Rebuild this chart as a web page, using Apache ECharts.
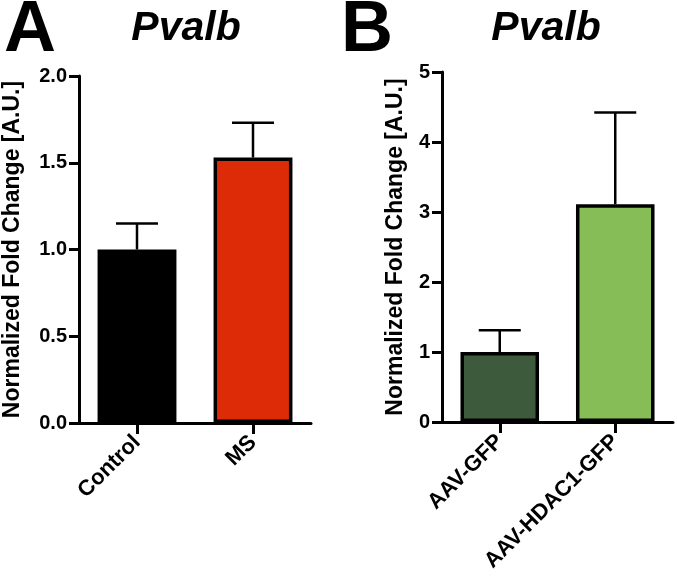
<!DOCTYPE html>
<html>
<head>
<meta charset="utf-8">
<script src="https://cdn.jsdelivr.net/npm/echarts@6/dist/echarts.min.js"></script>
<style>
html, body { margin: 0; padding: 0; background: #fff; }
#chart { width: 677px; height: 581px; }
</style>
</head>
<body>
<div id="chart"></div>
<script>
// panel A
const groupsA = ["Control", "MS"];
const meansA = [1.0, 1.53];
const semA = [0.15, 0.2];
const colorsA = ["#000000", "#dd2b07"];
// panel B
const groupsB = ["AAV-GFP", "AAV-HDAC1-GFP"];
const meansB = [1.0, 3.11];
const semB = [0.31, 1.31];
const colorsB = ["#3e5a3c", "#86bd57"];

const FONT = "'Liberation Sans', Arial, Helvetica, sans-serif";
const yName = "Normalized Fold Change [A.U.]";

function barData(means, colors) {
  return means.map((v, i) => ({
    value: v,
    itemStyle: { color: colors[i] }
  }));
}

function errData(means, sem) {
  return means.map((v, i) => [i, v, v + sem[i]]);
}

function renderErr(params, api) {
  const x = api.value(0);
  const lo = api.coord([x, api.value(1)]);
  const hi = api.coord([x, api.value(2)]);
  const half = 21;
  const style = { stroke: "#000", lineWidth: 2.5 };
  return {
    type: "group",
    children: [
      { type: "line", shape: { x1: lo[0], y1: lo[1], x2: hi[0], y2: hi[1] }, style: style },
      { type: "line", shape: { x1: hi[0] - half, y1: hi[1], x2: hi[0] + half, y2: hi[1] }, style: style }
    ]
  };
}

function xAxisOf(cats, gridIndex) {
  return {
    type: "category",
    gridIndex: gridIndex,
    data: cats,
    axisLine: { lineStyle: { color: "#000", width: 3 } },
    axisTick: { show: true, alignWithLabel: true, length: 11, lineStyle: { color: "#000", width: 3 } },
    axisLabel: {
      rotate: 45,
      margin: 16,
      color: "#000",
      fontFamily: FONT,
      fontWeight: "bold",
      fontSize: 22
    }
  };
}

function yAxisOf(max, interval, decimals, gridIndex, gap) {
  return {
    type: "value",
    gridIndex: gridIndex,
    min: 0,
    max: max,
    interval: interval,
    splitLine: { show: false },
    axisLine: { show: true, lineStyle: { color: "#000", width: 3 } },
    axisTick: { show: true, length: 10, lineStyle: { color: "#000", width: 3 } },
    axisLabel: {
      margin: 12,
      color: "#000",
      fontFamily: FONT,
      fontWeight: "bold",
      fontSize: 20,
      formatter: v => v.toFixed(decimals)
    },
    name: yName,
    nameLocation: "middle",
    nameGap: gap,
    nameTextStyle: {
      color: "#000",
      fontFamily: FONT,
      fontWeight: "bold",
      fontSize: 23
    }
  };
}

const chart = echarts.init(document.getElementById("chart"));
chart.setOption({
  backgroundColor: "#fff",
  animation: false,
  title: [
    { text: "A", left: -1, top: -10, textStyle: { fontFamily: FONT, fontWeight: "bold", fontSize: 72, color: "#000" } },
    { text: "B", left: 336, top: -10, textStyle: { fontFamily: FONT, fontWeight: "bold", fontSize: 72, color: "#000" } },
    { text: "Pvalb", left: 181, top: 3, textAlign: "center", textStyle: { fontFamily: FONT, fontStyle: "italic", fontWeight: "bold", fontSize: 41, color: "#000" } },
    { text: "Pvalb", left: 541, top: 3, textAlign: "center", textStyle: { fontFamily: FONT, fontStyle: "italic", fontWeight: "bold", fontSize: 41, color: "#000" } }
  ],
  grid: [
    { left: 78, right: 366, top: 76, bottom: 158 },
    { left: 442, right: 4, top: 72, bottom: 159 }
  ],
  xAxis: [xAxisOf(groupsA, 0), xAxisOf(groupsB, 1)],
  yAxis: [yAxisOf(2, 0.5, 1, 0, 55), yAxisOf(5, 1, 0, 1, 35)],
  series: [
    {
      type: "bar", xAxisIndex: 0, yAxisIndex: 0, barWidth: "68%",
      itemStyle: { borderColor: "#000", borderWidth: 3.5 },
      data: barData(meansA, colorsA)
    },
    {
      type: "custom", xAxisIndex: 0, yAxisIndex: 0,
      renderItem: renderErr, encode: { x: 0, y: [1, 2] },
      data: errData(meansA, semA), z: 1
    },
    {
      type: "bar", xAxisIndex: 1, yAxisIndex: 1, barWidth: "68%",
      itemStyle: { borderColor: "#000", borderWidth: 3.5 },
      data: barData(meansB, colorsB)
    },
    {
      type: "custom", xAxisIndex: 1, yAxisIndex: 1,
      renderItem: renderErr, encode: { x: 0, y: [1, 2] },
      data: errData(meansB, semB), z: 1
    }
  ]
});
</script>
</body>
</html>
